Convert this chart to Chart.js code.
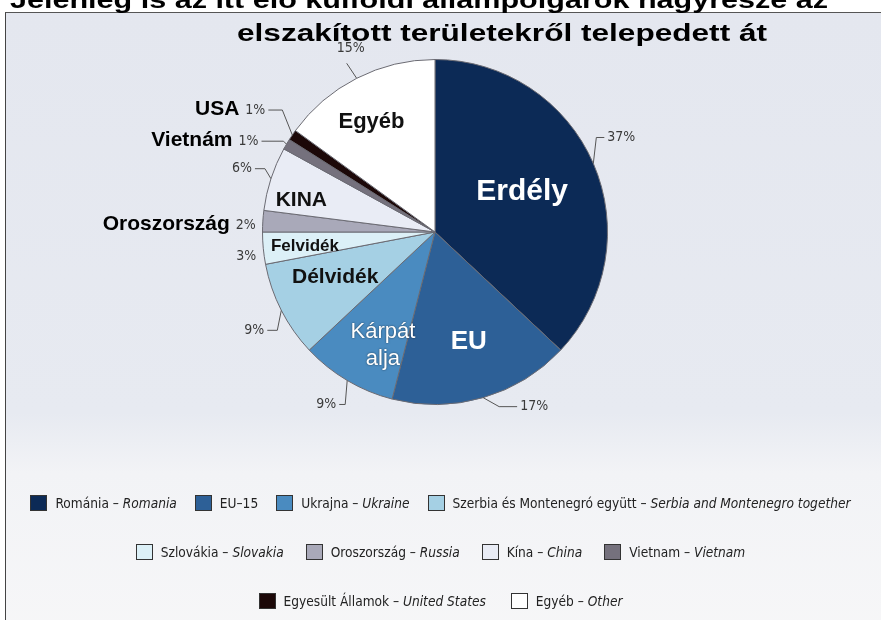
<!DOCTYPE html>
<html>
<head>
<meta charset="utf-8">
<script src="https://cdn.jsdelivr.net/npm/chart.js@4.4.1/dist/chart.umd.min.js"></script>
<style>
  html, body { margin: 0; padding: 0; background: #fff; }
  #wrap { position: relative; width: 881px; height: 620px; overflow: hidden; }
  #frame {
    position: absolute; left: 5px; top: 12px; width: 900px; height: 640px;
    border-left: 1px solid #444; border-top: 1px solid #555;
    background: linear-gradient(#e4e7ef 0px, #e7eaf1 400px, #f2f3f6 460px, #f7f7f8 100%);
  }
  canvas { position: absolute; left: 0; top: 0; }
  .row {
    position: absolute; left: 0; width: 881px; display: flex; justify-content: center;
    font-family: "DejaVu Sans Condensed", "Liberation Sans Narrow", sans-serif;
    font-size: 13.6px; color: #222;
  }
  .item { display: flex; align-items: center; white-space: nowrap; }
  .box { width: 17px; height: 16px; border: 1px solid #333; margin-right: 8px; box-sizing: border-box; }
</style>
</head>
<body>
<div id="wrap">
  <div id="frame"></div>
  <canvas id="c" width="881" height="620"></canvas>
  <div id="legend"></div>
</div>
<script>
// kategóriák (jelmagyarázat)
const categoriesHu = ["Románia", "EU–15", "Ukrajna", "Szerbia és Montenegró együtt", "Szlovákia",
  "Oroszország", "Kína", "Vietnam", "Egyesült Államok", "Egyéb"];
const categoriesEn = ["Romania", "", "Ukraine", "Serbia and Montenegro together", "Slovakia",
  "Russia", "China", "Vietnam", "United States", "Other"];
// százalékos megoszlás
const shares = [37, 17, 9, 9, 3, 2, 6, 1, 1, 15];
// feliratok a szeletekben / mellett
const sliceNames = ["Erdély", "EU", "Kárpát\nalja", "Délvidék", "Felvidék", "", "KINA", "", "", "Egyéb"];
const outerNames = ["", "", "", "", "", "Oroszország", "", "Vietnám", "USA", ""];
const titleLines = ["Jelenleg is az itt élő külföldi állampolgárok nagyrésze az",
  "elszakított területekről telepedett át"];
const legendRows = [[0, 1, 2, 3], [4, 5, 6, 7], [8, 9]];

const colors = ["#0c2a56", "#2d6097", "#4a8bc0", "#a5d0e4", "#dcf0f7",
  "#a9a9b9", "#e9ecf5", "#75717d", "#1c0808", "#ffffff"];

// címkék elhelyezése (eltolás a szelet ívétől)
const leaders = [
  { dx: 3, dy: -26, h: 8, side: "right", line: true },
  { dx: 16, dy: 9, h: 18, side: "right", line: true },
  { dx: -2, dy: 24, h: 6, side: "left", line: true },
  { dx: -4, dy: 20, h: 10, side: "left", line: true },
  { dx: -4, dy: 8, h: 0, side: "left", line: false },
  { dx: -4, dy: 4, h: 0, side: "left", line: false },
  { dx: -6, dy: -10, h: 10, side: "left", line: true },
  { dx: -3, dy: -3, h: 22, side: "left", line: true },
  { dx: -10, dy: -25, h: 14, side: "left", line: true },
  { dx: -10, dy: -15, h: 0, side: "top", line: true },
];
const inside = [
  { frac: 0.55, nx: 0, ny: -3, font: "bold 30px 'Liberation Sans', Arial", color: "#fff" },
  { frac: 0.66, nx: 2, ny: 0, font: "bold 26px 'Liberation Sans', Arial", color: "#fff" },
  { frac: 0.73, nx: 12, ny: 5, font: "22px 'Liberation Sans', Arial", color: "#fff", lh: 27 },
  { frac: 0.63, nx: -3, ny: -4, font: "bold 21px 'Liberation Sans', Arial", color: "#111" },
  { frac: 0.757, nx: 0, ny: 2, font: "bold 17px 'Liberation Sans', Arial", color: "#111" },
  null,
  { frac: 0.815, nx: 0, ny: 12, font: "bold 21px 'Liberation Sans', Arial", color: "#111" },
  null,
  null,
  { frac: 0.734, nx: -6, ny: 3, font: "bold 22px 'Liberation Sans', Arial", color: "#111" },
];

const labelsPlugin = {
  id: "labels",
  afterDraw(chart) {
    const ctx = chart.ctx;
    const meta = chart.getDatasetMeta(0);
    ctx.save();
    // cím (szélesített betűkkel, mint az eredetin)
    ctx.fillStyle = "#000";
    ctx.font = "bold 23px 'Liberation Sans', Arial";
    ctx.textAlign = "center";
    ctx.textBaseline = "alphabetic";
    [[818, 419, 8], [530, 502, 41]].forEach(([w, cx, by], k) => {
      const sx = w / ctx.measureText(titleLines[k]).width;
      ctx.save();
      ctx.scale(sx, 1);
      ctx.fillText(titleLines[k], cx / sx, by);
      ctx.restore();
    });

    meta.data.forEach((arc, i) => {
      const p = arc.getProps(["x", "y", "startAngle", "endAngle", "outerRadius"], true);
      const mid = (p.startAngle + p.endAngle) / 2;
      const cos = Math.cos(mid), sin = Math.sin(mid);

      // belső felirat
      const ins = inside[i];
      if (ins && sliceNames[i]) {
        const r = p.outerRadius * ins.frac;
        const cx = p.x + cos * r + ins.nx, cy = p.y + sin * r + ins.ny;
        ctx.font = ins.font;
        ctx.fillStyle = ins.color;
        ctx.textAlign = "center";
        ctx.textBaseline = "middle";
        const lines = sliceNames[i].split("\n");
        const lh = ins.lh || 24;
        if (i === 2) { ctx.shadowColor = "rgba(0,0,0,0.6)"; ctx.shadowBlur = 2; }
        lines.forEach((t, k) => ctx.fillText(t, cx, cy + (k - (lines.length - 1) / 2) * lh));
        ctx.shadowBlur = 0; ctx.shadowColor = "transparent";
      }

      // külső százalék + vezetővonal
      const L = leaders[i];
      const px = p.x + cos * p.outerRadius, py = p.y + sin * p.outerRadius;
      const ex = px + L.dx, ey = py + L.dy;
      let hx = ex;
      if (L.side === "left") hx = ex - L.h;
      if (L.side === "right") hx = ex + L.h;
      if (L.line) {
        ctx.strokeStyle = "#555";
        ctx.lineWidth = 1;
        ctx.beginPath();
        ctx.moveTo(px, py);
        ctx.lineTo(ex, ey);
        ctx.lineTo(hx, ey);
        ctx.stroke();
      }
      const txt = shares[i] + "%";
      ctx.font = "14px 'DejaVu Sans Condensed', sans-serif";
      ctx.fillStyle = "#3a3a3a";
      ctx.textBaseline = "middle";
      let tLeft = 0;
      if (L.side === "left") {
        ctx.textAlign = "right";
        ctx.fillText(txt, hx - 3, ey);
        tLeft = hx - 3 - ctx.measureText(txt).width;
      } else if (L.side === "right") {
        ctx.textAlign = "left";
        ctx.fillText(txt, hx + 3, ey);
      } else {
        ctx.textAlign = "center";
        ctx.fillText(txt, ex + 4, ey - 15);
      }
      if (outerNames[i]) {
        ctx.font = "bold 21px 'Liberation Sans', Arial";
        ctx.fillStyle = "#000";
        ctx.textAlign = "right";
        ctx.fillText(outerNames[i], tLeft - 6, ey - 1);
      }
    });
    ctx.restore();
  }
};

new Chart(document.getElementById("c").getContext("2d"), {
  type: "pie",
  data: {
    labels: categoriesHu,
    datasets: [{
      data: shares,
      backgroundColor: colors,
      borderColor: "#6a6a72",
      borderWidth: 1,
    }]
  },
  options: {
    responsive: false,
    animation: false,
    layout: { padding: { left: 262, right: 273, top: 59, bottom: 215 } },
    plugins: {
      legend: { display: false },
      title: { display: false },
      tooltip: { enabled: false },
    }
  },
  plugins: [labelsPlugin]
});

// jelmagyarázat
const legend = document.getElementById("legend");
const rowTops = [495, 544, 593];
const rowGaps = [18, 22, 25];
legendRows.forEach((row, r) => {
  const div = document.createElement("div");
  div.className = "row";
  div.style.top = rowTops[r] + "px";
  div.style.gap = rowGaps[r] + "px";
  row.forEach(i => {
    const it = document.createElement("div");
    it.className = "item";
    const b = document.createElement("span");
    b.className = "box";
    b.style.background = colors[i];
    it.appendChild(b);
    const t = document.createElement("span");
    t.textContent = categoriesHu[i];
    if (categoriesEn[i]) {
      t.textContent += " – ";
      const em = document.createElement("i");
      em.textContent = categoriesEn[i];
      t.appendChild(em);
    }
    it.appendChild(t);
    div.appendChild(it);
  });
  legend.appendChild(div);
});
</script>
</body>
</html>
